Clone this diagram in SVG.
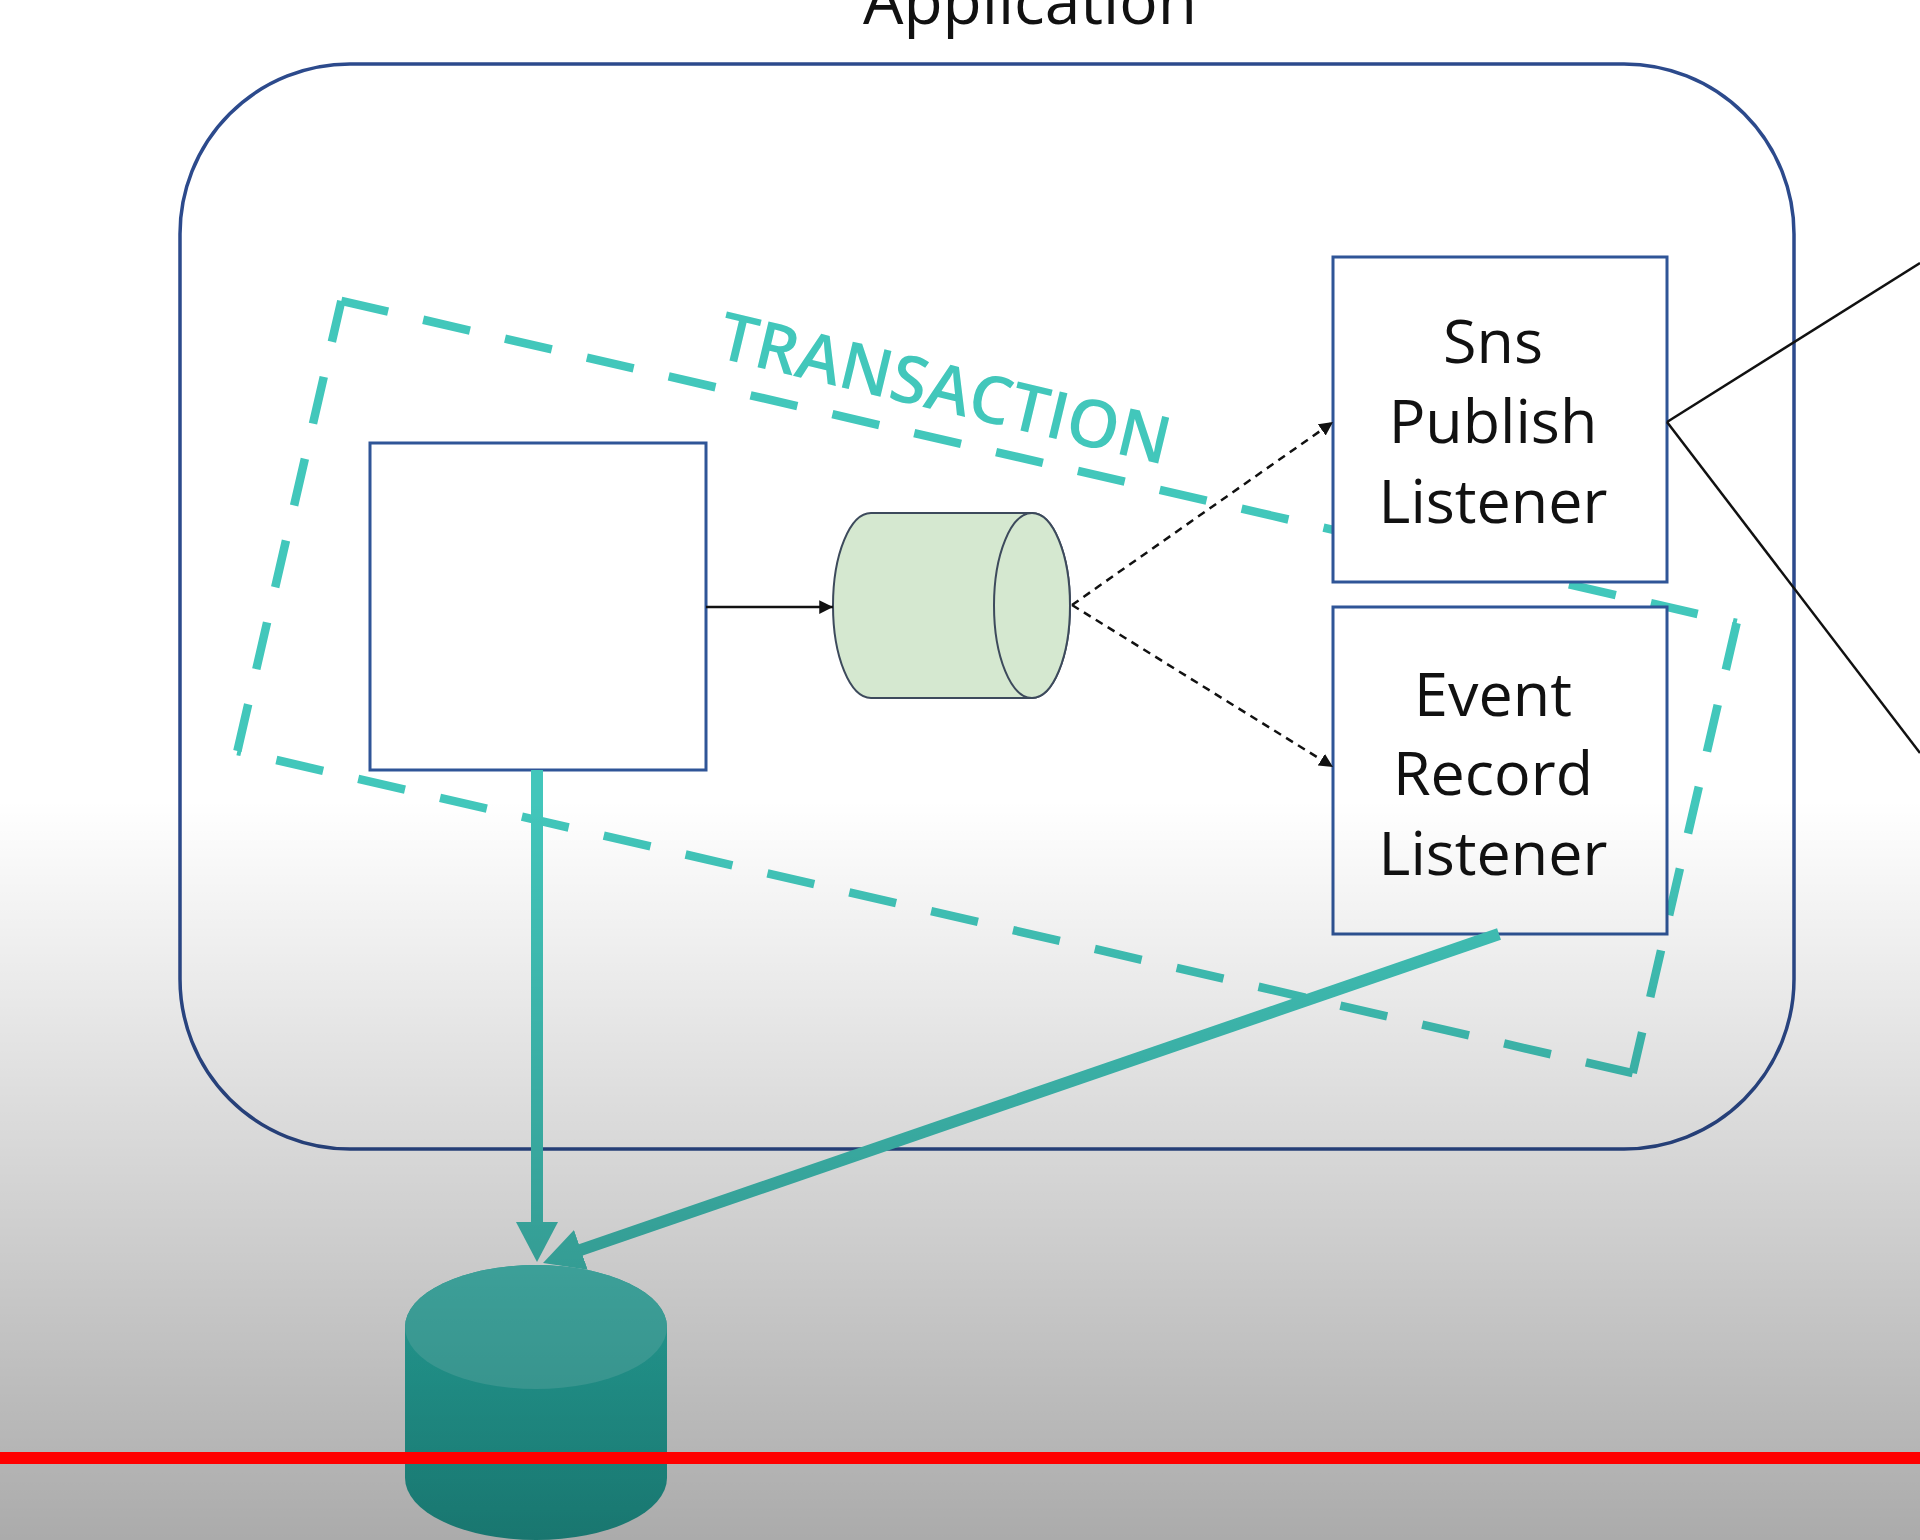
<svg xmlns="http://www.w3.org/2000/svg" width="1920" height="1540" viewBox="0 0 1920 1540">
  <style>
    .node { fill: #ffffff; stroke: #2f5597; stroke-width: 3; }
    .lbl { font-family: "Open Sans", "Liberation Sans", sans-serif; font-size: 61px; fill: #111111; text-anchor: middle; }
    .teal { stroke: #42c6bb; fill: none; }
    .blk { stroke: #111111; stroke-width: 2.5; fill: none; }
    .tx { stroke: #42c7bb; stroke-width: 8.5; stroke-dasharray: 48 36; fill: none; }
  </style>
  <defs>
    <marker id="ah" viewBox="0 0 10 10" refX="10" refY="5" markerWidth="5.5" markerHeight="5.5" orient="auto" markerUnits="strokeWidth">
      <path d="M0,0 L10,5 L0,10 Z" fill="#111111"/>
    </marker>
    <marker id="tealHead" viewBox="0 0 40 42" refX="10" refY="21" markerWidth="40" markerHeight="42" orient="auto" markerUnits="userSpaceOnUse">
      <path d="M0,0 L40,21 L0,42 Z" fill="#42c6bb"/>
    </marker>
    <linearGradient id="shade" gradientUnits="userSpaceOnUse" x1="0" y1="800" x2="0" y2="1540">
      <stop offset="0" stop-color="#000000" stop-opacity="0"/>
      <stop offset="1" stop-color="#000000" stop-opacity="0.33"/>
    </linearGradient>
    <linearGradient id="dbBody" x1="0" y1="0" x2="0" y2="1">
      <stop offset="0" stop-color="#2ec2b7"/>
      <stop offset="1" stop-color="#25b0a6"/>
    </linearGradient>
  </defs>

  <rect x="0" y="0" width="1920" height="1540" fill="#ffffff"/>

  <!-- Application container -->
  <g id="application">
    <rect x="180" y="64" width="1614" height="1085" rx="170" ry="170" fill="none" stroke="#2c4a8c" stroke-width="3.5"/>
    <text x="1030" y="24" font-family="'Open Sans', 'Liberation Sans', sans-serif" font-size="64" fill="#111111" text-anchor="middle">Application</text>
  </g>

  <!-- Transaction boundary -->
  <g id="transaction">
    <g transform="translate(987,687) rotate(13)">
      <line class="tx" x1="-716" y1="-231" x2="716" y2="-231"/>
      <line class="tx" x1="716" y1="-231" x2="716" y2="231"/>
      <line class="tx" x1="716" y1="231" x2="-716" y2="231"/>
      <line class="tx" x1="-716" y1="231" x2="-716" y2="-231"/>
    </g>
    <text x="0" y="0" transform="translate(715,357) rotate(13.5)" font-family="'Open Sans', 'Liberation Sans', sans-serif" font-size="66" font-weight="600" fill="#42c7bb" textLength="462" lengthAdjust="spacingAndGlyphs">TRANSACTION</text>
  </g>

  <!-- Service box -->
  <g id="service">
    <rect class="node" x="370" y="443" width="336" height="327"/>
  </g>

  <!-- Event queue cylinder -->
  <g id="queue">
    <path d="M871,513 L1032,513 A38,92.5 0 0 1 1032,698 L871,698 A38,92.5 0 0 1 871,513 Z" fill="#d5e8d0" stroke="#3d4a5c" stroke-width="2"/>
    <ellipse cx="1032" cy="605.5" rx="38" ry="92.5" fill="#d5e8d0" stroke="#3d4a5c" stroke-width="2"/>
  </g>

  <!-- Sns Publish Listener -->
  <g id="sns-publish-listener">
    <rect class="node" x="1333" y="257" width="334" height="325"/>
    <text class="lbl" x="1493" y="363">Sns</text>
    <text class="lbl" x="1493" y="443">Publish</text>
    <text class="lbl" x="1493" y="523">Listener</text>
  </g>

  <!-- Event Record Listener -->
  <g id="event-record-listener">
    <rect class="node" x="1333" y="607" width="334" height="327"/>
    <text class="lbl" x="1493" y="716">Event</text>
    <text class="lbl" x="1493" y="795">Record</text>
    <text class="lbl" x="1493" y="875">Listener</text>
  </g>

  <!-- Database -->
  <g id="database">
    <path d="M405,1327 A131,62 0 0 1 667,1327 L667,1478 A131,62 0 0 1 405,1478 Z" fill="url(#dbBody)"/>
    <ellipse cx="536" cy="1327" rx="131" ry="62" fill="#4cc9c0"/>
  </g>

  <!-- Connectors -->
  <g id="connectors">
    <line class="blk" x1="706" y1="607" x2="833" y2="607" marker-end="url(#ah)"/>
    <line class="blk" x1="1072" y1="605" x2="1333" y2="422" stroke-dasharray="8 6" marker-end="url(#ah)"/>
    <line class="blk" x1="1072" y1="605" x2="1333" y2="767" stroke-dasharray="8 6" marker-end="url(#ah)"/>
    <line class="blk" x1="1667" y1="422" x2="1920" y2="263"/>
    <line class="blk" x1="1667" y1="422" x2="1920" y2="753"/>
    <line class="teal" x1="537" y1="770" x2="537" y2="1232" stroke-width="12" marker-end="url(#tealHead)"/>
    <line class="teal" x1="1499" y1="934" x2="571.4" y2="1253.2" stroke-width="12" marker-end="url(#tealHead)"/>
  </g>

  <!-- video player shading overlay -->
  <rect x="0" y="0" width="1920" height="1540" fill="url(#shade)"/>
  <rect x="0" y="1452" width="1920" height="12" fill="#ff0000"/>
</svg>
